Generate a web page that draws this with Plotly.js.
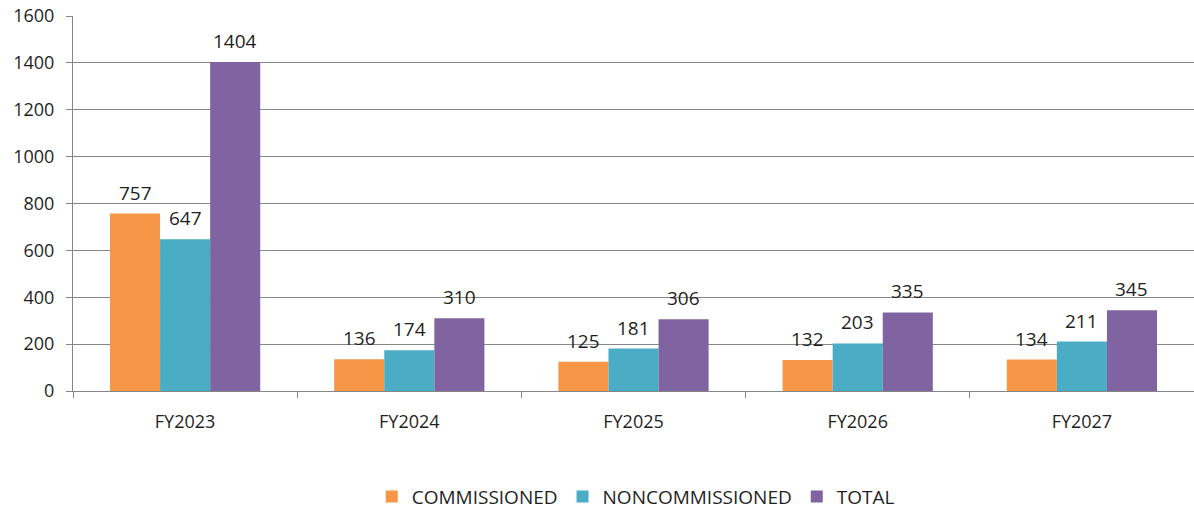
<!DOCTYPE html>
<html>
<head>
<meta charset="utf-8">
<script src="https://cdn.plot.ly/plotly-3.0.1.min.js"></script>
<style>html,body{margin:0;padding:0;background:#fff;}#chart{width:1194px;height:510px;}</style>
</head>
<body>
<div id="chart"></div>
<script>
const categories = ["FY2023", "FY2024", "FY2025", "FY2026", "FY2027"];
const commissioned = [757, 136, 125, 132, 134];
const noncommissioned = [647, 174, 181, 203, 211];
const total = [1404, 310, 306, 335, 345];
const seriesNames = ["COMMISSIONED", "NONCOMMISSIONED", "TOTAL"];
const yTicks = [0, 200, 400, 600, 800, 1000, 1200, 1400, 1600];

const colors = ["#F79646", "#4BACC6", "#8064A2"];
const seriesValues = [commissioned, noncommissioned, total];
const fontFam = "Open Sans, Liberation Sans, sans-serif";
const txtColor = "#1f1f1f";

const traces = seriesValues.map((vals, i) => ({
  type: "bar",
  name: seriesNames[i],
  x: categories,
  y: vals,
  marker: { color: colors[i] },
  hoverinfo: "x+y+name"
}));

const barPx = 50;
const annotations = [];
seriesValues.forEach((vals, i) => {
  vals.forEach((v, j) => {
    annotations.push({
      x: categories[j], y: v, xref: "x", yref: "y",
      text: String(v), showarrow: false,
      xshift: (i - 1) * barPx, yshift: 21,
      yanchor: "middle", xanchor: "center",
      font: { family: fontFam, size: 19, color: txtColor }
    });
  });
});

const layout = {
  width: 1194, height: 510,
  margin: { l: 73, r: 0, t: 16, b: 119, autoexpand: false },
  paper_bgcolor: "#fff", plot_bgcolor: "#fff",
  barmode: "group", bargap: 0.33, bargroupgap: 0,
  font: { family: fontFam, size: 18, color: txtColor },
  xaxis: {
    type: "category",
    showgrid: false,
    showline: true, linecolor: "#868686", linewidth: 1,
    ticks: "outside", tickson: "boundaries", ticklen: 6, tickcolor: "#868686",
    tickfont: { family: fontFam, size: 18, color: txtColor },
    ticklabelstandoff: 14
  },
  yaxis: {
    range: [0, 1600], tickvals: yTicks, ticktext: yTicks.map(String),
    showgrid: true, gridcolor: "#878787", gridwidth: 1,
    showline: true, linecolor: "#868686", linewidth: 1,
    ticks: "outside", ticklen: 6, tickcolor: "#868686",
    zeroline: false,
    tickfont: { family: fontFam, size: 18, color: txtColor },
    ticklabelstandoff: 8
  },
  legend: {
    orientation: "h", x: 0.502, xanchor: "center",
    yref: "container", y: 0.026, yanchor: "middle",
    font: { family: fontFam, size: 19, color: txtColor },
    itemwidth: 30, traceorder: "normal"
  },
  annotations: annotations,
  showlegend: true
};

Plotly.newPlot("chart", traces, layout, { displayModeBar: false, staticPlot: true });
</script>
</body>
</html>
